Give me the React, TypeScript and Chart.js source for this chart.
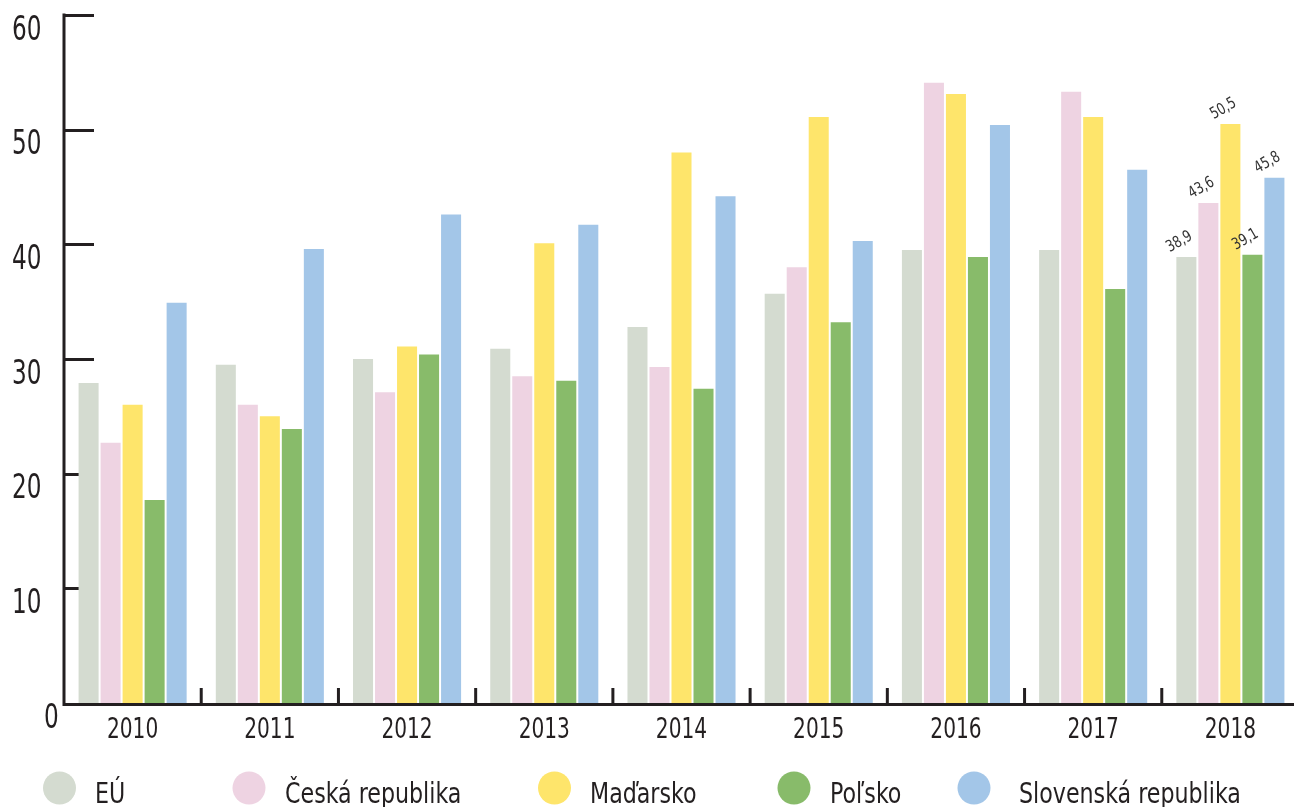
import React, { useEffect, useRef } from 'react';
import { Chart, registerables } from 'chart.js';

Chart.register(...registerables);

// ---------- data ----------
const categories = ['2010', '2011', '2012', '2013', '2014', '2015', '2016', '2017', '2018'];
const seriesNames = ['EÚ', 'Česká republika', 'Maďarsko', 'Poľsko', 'Slovenská republika'];
const euValues = [27.9, 29.5, 30.0, 30.9, 32.8, 35.7, 39.5, 39.5, 38.9];
const czValues = [22.7, 26.0, 27.1, 28.5, 29.3, 38.0, 54.1, 53.3, 43.6];
const huValues = [26.0, 25.0, 31.1, 40.1, 48.0, 51.1, 53.1, 51.1, 50.5];
const plValues = [17.7, 23.9, 30.4, 28.1, 27.4, 33.2, 38.9, 36.1, 39.1];
const skValues = [34.9, 39.6, 42.6, 41.7, 44.2, 40.3, 50.4, 46.5, 45.8];
const yTickValues = [0, 10, 20, 30, 40, 50, 60];
const labeledCategory = '2018';

// ---------- styles / layout ----------
const seriesColors = ['#d4dbd0', '#eed3e2', '#fee56b', '#88bb6a', '#a3c6e8'];
const FONT = '"Liberation Sans Narrow", "DejaVu Sans Condensed", "Roboto", sans-serif';
const AXIS_COLOR = '#231f20';
const TEXT_COLOR = '#231f20';
const legendCircleX = [59.5, 249, 554.5, 794, 974];
const legendTextX = [95, 285, 590, 830, 1019];
const LEGEND_Y = 788;

const fmt = (v: number) => v.toFixed(1).replace('.', ',');

function scaledText(ctx: CanvasRenderingContext2D, text: string, x: number, y: number, sx: number) {
  ctx.save();
  ctx.translate(x, y);
  ctx.scale(sx, 1);
  ctx.fillText(text, 0, 0);
  ctx.restore();
}

const decorPlugin = {
  id: 'decor',
  beforeDatasetsDraw(chart: any) {
    const { ctx, chartArea, scales } = chart;
    const x = scales.x;
    const y = scales.y;
    ctx.save();
    ctx.strokeStyle = AXIS_COLOR;
    ctx.lineWidth = 3;
    ctx.lineCap = 'butt';
    yTickValues.forEach((v) => {
      if (v === 0) return;
      const py = Math.round(y.getPixelForValue(v)) + 0.5;
      ctx.beginPath();
      ctx.moveTo(chartArea.left, py);
      ctx.lineTo(chartArea.left + 30, py);
      ctx.stroke();
    });
    for (let i = 1; i < categories.length; i++) {
      const px = (x.getPixelForValue(i - 1) + x.getPixelForValue(i)) / 2;
      ctx.beginPath();
      ctx.moveTo(px, chartArea.bottom);
      ctx.lineTo(px, chartArea.bottom - 15);
      ctx.stroke();
    }
    ctx.restore();
  },
  afterDatasetsDraw(chart: any) {
    const { ctx, chartArea, scales } = chart;
    const x = scales.x;
    const y = scales.y;
    ctx.save();
    // axes
    ctx.strokeStyle = AXIS_COLOR;
    ctx.lineWidth = 3;
    ctx.beginPath();
    ctx.moveTo(chartArea.left, y.getPixelForValue(60) - 1.5);
    ctx.lineTo(chartArea.left, chartArea.bottom + 1.5);
    ctx.lineTo(chartArea.right, chartArea.bottom + 1.5);
    ctx.stroke();

    // y labels
    ctx.fillStyle = TEXT_COLOR;
    ctx.font = `33px ${FONT}`;
    ctx.textAlign = 'left';
    ctx.textBaseline = 'alphabetic';
    yTickValues.forEach((v) => {
      const py = y.getPixelForValue(v);
      const lx = v === 0 ? 44 : 12;
      scaledText(ctx, String(v), lx, py + 24.5, 0.78);
    });

    // x labels
    ctx.font = `28px ${FONT}`;
    ctx.textAlign = 'center';
    categories.forEach((c, i) => {
      scaledText(ctx, c, x.getPixelForValue(i), chartArea.bottom + 34.5, 0.8);
    });

    // value labels on the last category
    const ci = categories.indexOf(labeledCategory);
    ctx.font = `16px ${FONT}`;
    ctx.fillStyle = '#333333';
    ctx.textAlign = 'center';
    ctx.textBaseline = 'middle';
    chart.data.datasets.forEach((ds: any, di: number) => {
      const meta = chart.getDatasetMeta(di);
      const bar = meta.data[ci];
      if (!bar) return;
      const v = ds.data[ci];
      ctx.save();
      ctx.translate(bar.x - 7, bar.y - 15);
      ctx.rotate(-Math.PI / 6);
      ctx.scale(0.85, 1);
      ctx.fillText(fmt(v), 0, 0);
      ctx.restore();
    });

    // legend
    ctx.textAlign = 'left';
    ctx.textBaseline = 'alphabetic';
    ctx.font = `28px ${FONT}`;
    seriesNames.forEach((name, i) => {
      ctx.fillStyle = seriesColors[i];
      ctx.beginPath();
      ctx.arc(legendCircleX[i], LEGEND_Y, 16.5, 0, Math.PI * 2);
      ctx.fill();
      ctx.fillStyle = TEXT_COLOR;
      scaledText(ctx, name, legendTextX[i], LEGEND_Y + 15, 0.88);
    });
    ctx.restore();
  },
};

export default function App() {
  const canvasRef = useRef<HTMLCanvasElement | null>(null);

  useEffect(() => {
    document.documentElement.style.overflow = 'hidden';
    document.body.style.overflow = 'hidden';
    const canvas = canvasRef.current;
    if (!canvas) return;
    const seriesValues = [euValues, czValues, huValues, plValues, skValues];
    const chart = new Chart(canvas, {
      type: 'bar',
      data: {
        labels: categories,
        datasets: seriesNames.map((name, i) => ({
          label: name,
          data: seriesValues[i],
          backgroundColor: seriesColors[i],
          borderWidth: 0,
          categoryPercentage: 0.802,
          barPercentage: 0.91,
        })),
      },
      options: {
        animation: false,
        responsive: false,
        maintainAspectRatio: false,
        devicePixelRatio: 1,
        layout: { padding: { left: 64, top: 15, right: 1, bottom: 0 } },
        plugins: {
          legend: { display: false },
          tooltip: { enabled: false },
          title: { display: false },
        },
        scales: {
          x: {
            grid: { display: false, drawTicks: false },
            border: { display: false },
            ticks: { display: false },
            afterFit: (scale: any) => {
              scale.height = 104;
            },
          },
          y: {
            display: false,
            min: 0,
            max: 60,
          },
        },
      },
      plugins: [decorPlugin],
    });
    return () => chart.destroy();
  }, []);

  return (
    <div style={{ position: 'fixed', left: 0, top: 0, width: 1300, height: 807, background: '#fff' }}>
      <canvas ref={canvasRef} width={1300} height={807} style={{ width: 1300, height: 807, display: 'block' }} />
    </div>
  );
}
